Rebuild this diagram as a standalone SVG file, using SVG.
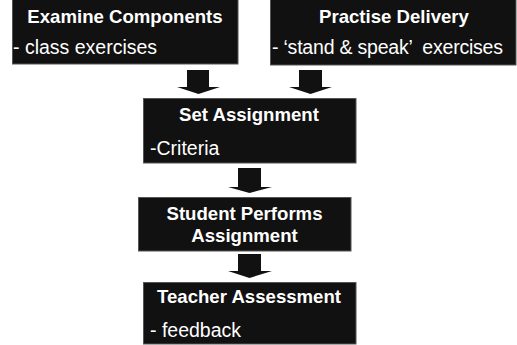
<svg xmlns="http://www.w3.org/2000/svg" width="517" height="345" viewBox="0 0 517 345">
<style>
.box{fill:#111111;stroke:#555555;stroke-width:1}
.arr{fill:#111111;stroke:none}
.t{font-family:"Liberation Sans",Arial,sans-serif;font-size:18.6px;font-weight:bold;fill:#ffffff;text-anchor:middle}
.s{font-family:"Liberation Sans",Arial,sans-serif;font-size:19.5px;fill:#ffffff;white-space:pre}
</style>
<rect width="517" height="345" fill="#ffffff"/>
<g id="connectors">
<polygon class="arr" points="187,70 209,70 209,87 220,87 198.5,94 177,87 187,87"/>
<polygon class="arr" points="299,70 322,70 322,87 332,87 310.5,94 289,87 299,87"/>
<polygon class="arr" points="238,168 261,168 261,187 272,187 249.5,193 228,187 238,187"/>
<polygon class="arr" points="238,254 261,254 261,271 272,271 249.5,278 228,271 238,271"/>
</g>
<g id="examine">
<rect class="box" x="12.5" y="-1" width="225.5" height="65"/>
<text class="t" x="125" y="23">Examine Components</text>
<text class="s" x="13" y="54">- class exercises</text>
</g>
<g id="practise">
<rect class="box" x="270.5" y="-1" width="245.5" height="66"/>
<text class="t" x="394" y="23">Practise Delivery</text>
<text class="s" x="272" y="54" xml:space="preserve" textLength="231" lengthAdjust="spacing">- ‘stand &amp; speak’  exercises</text>
</g>
<g id="set">
<rect class="box" x="143.5" y="98.5" width="212.5" height="64.5"/>
<text class="t" x="249" y="121">Set Assignment</text>
<text class="s" x="150" y="155">-Criteria</text>
</g>
<g id="student">
<rect class="box" x="138.5" y="197.5" width="212.5" height="53.5"/>
<text class="t" x="244.5" y="220">Student Performs</text>
<text class="t" x="244.5" y="242">Assignment</text>
</g>
<g id="teacher">
<rect class="box" x="143.5" y="282.5" width="212.5" height="61.5"/>
<text class="t" x="249" y="303">Teacher Assessment</text>
<text class="s" x="150" y="337">- feedback</text>
</g>
</svg>
